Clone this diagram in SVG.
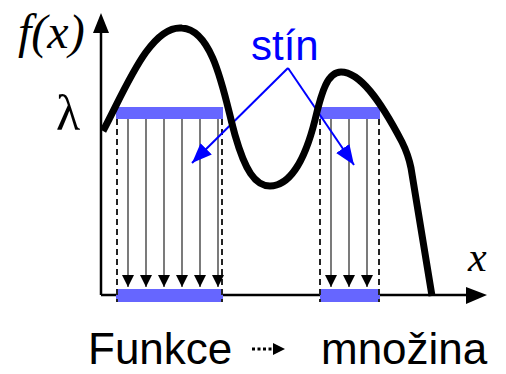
<svg xmlns="http://www.w3.org/2000/svg" width="506" height="374" viewBox="0 0 506 374">
<defs>
<style>
.ax{stroke:#000;stroke-width:2.5;fill:none}
.bar{fill:#6666ff}
.dash{stroke:#222;stroke-width:2;stroke-dasharray:6,4;fill:none}
.ray{stroke:#333;stroke-width:1.3;fill:none}
.curve{stroke:#000;stroke-width:7;fill:none;stroke-linejoin:round}
.blue{stroke:#0000ff;stroke-width:2;fill:none}
.serif{font-family:"Liberation Serif","Times New Roman",serif;fill:#000}
.sans{font-family:"Liberation Sans",Arial,sans-serif}
</style>
<marker id="ah" viewBox="0 0 12 12" refX="12" refY="6" markerWidth="12" markerHeight="12" markerUnits="userSpaceOnUse" orient="auto"><path d="M0,0 L12,6 L0,12 Z" fill="#000"/></marker>
<marker id="bh" viewBox="0 0 20 16" refX="20" refY="8" markerWidth="20" markerHeight="16" markerUnits="userSpaceOnUse" orient="auto"><path d="M0,0 L20,8 L0,16 Z" fill="#0000ff"/></marker>
</defs>
<g id="axes">
<path class="ax" d="M101,295 V32"/>
<path d="M93,33 L101,13 L109,33 Z" fill="#000"/>
<path class="ax" d="M101,295 H468"/>
<path d="M466,287 L487,295 L466,304 Z" fill="#000"/>
</g>
<g id="labels">
<text class="serif" x="18" y="48" font-size="48" font-style="italic">f(x)</text>
<text class="serif" x="56" y="130" font-size="50">λ</text>
<text class="serif" x="468" y="271" font-size="42" font-style="italic">x</text>
</g>
<g id="shadow1">
<rect class="bar" x="116" y="107" width="107" height="12"/>
<rect class="bar" x="116" y="289" width="107" height="13"/>
<path class="dash" d="M117,119 V302 M222,119 V302"/>
</g>
<g id="shadow2">
<rect class="bar" x="320" y="107" width="60" height="12"/>
<rect class="bar" x="320" y="289" width="60" height="13"/>
<path class="dash" d="M320,119 V302 M379,119 V302"/>
</g>
<g id="connectors">
<path class="ray" d="M128,119 V287" marker-end="url(#ah)"/>
<path class="ray" d="M146,119 V287" marker-end="url(#ah)"/>
<path class="ray" d="M164,119 V287" marker-end="url(#ah)"/>
<path class="ray" d="M182,119 V287" marker-end="url(#ah)"/>
<path class="ray" d="M200,119 V287" marker-end="url(#ah)"/>
<path class="ray" d="M218,119 V287" marker-end="url(#ah)"/>
<path class="ray" d="M331,119 V287" marker-end="url(#ah)"/>
<path class="ray" d="M349,119 V287" marker-end="url(#ah)"/>
<path class="ray" d="M367,119 V287" marker-end="url(#ah)"/>
<path class="blue" d="M288,68 L192,163" marker-end="url(#bh)"/>
<path class="blue" d="M288,68 L354,165" marker-end="url(#bh)"/>
</g>
<g id="function">
<path class="curve" d="M103,131 C125,90 150,25 182,28 C215,30 225,100 235,135 C245,170 255,186 270,186 C290,186 305,160 315,120 C322,90 328,72 341,72 C360,72 380,100 402,142 C407,152 409,158 411,168 L432,296"/>
</g>
<g id="stin">
<text class="sans" x="251" y="60" font-size="42" fill="#0000ff">stín</text>
</g>
<g id="caption">
<text class="sans" x="88" y="364" font-size="44" fill="#000">Funkce</text>
<path d="M252,349 H274" stroke="#000" stroke-width="3" stroke-dasharray="3,2.5" fill="none"/>
<path d="M273,343 L285,349 L273,355 Z" fill="#000"/>
<text class="sans" x="321" y="364" font-size="44" fill="#000">množina</text>
</g>
</svg>
